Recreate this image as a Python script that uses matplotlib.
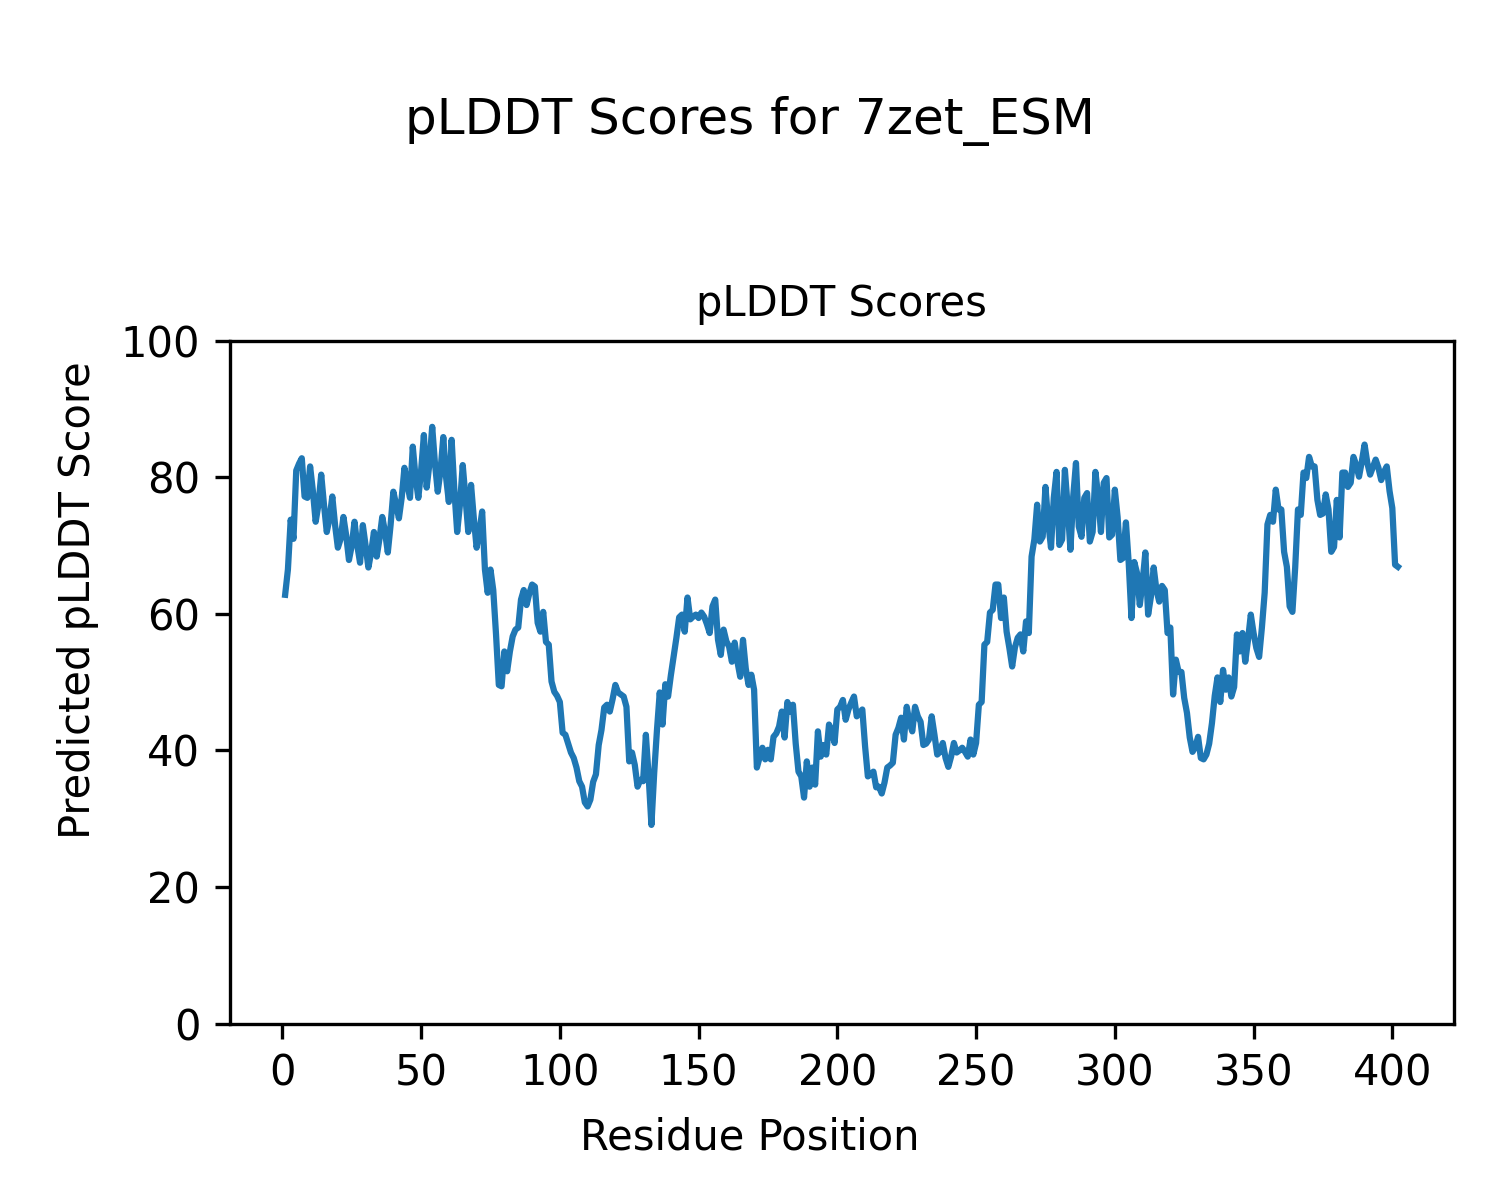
import matplotlib
matplotlib.use("Agg")
import matplotlib.pyplot as plt
import numpy as np

protein_name = "7zet_ESM"

# pLDDT per residue
plddt_scores = [
    62.8, 66.5, 73.8, 71.0, 81.0, 82.0, 82.8, 77.2, 77.0, 81.6,
    78.0, 73.5, 76.0, 80.4, 76.0, 72.0, 74.0, 77.2, 73.0, 69.7,
    71.0, 74.2, 71.5, 67.9, 70.0, 73.5, 70.0, 67.5, 73.0, 70.0,
    66.8, 69.0, 72.0, 68.4, 71.0, 74.2, 72.0, 69.0, 73.0, 77.9,
    76.0, 74.0, 77.0, 81.4, 79.0, 77.0, 84.5, 80.0, 77.0, 81.0,
    86.2, 78.5, 82.0, 87.4, 82.0, 77.9, 81.0, 85.9, 80.0, 76.4,
    85.5, 78.0, 72.0, 76.0, 81.8, 77.0, 72.0, 78.9, 74.0, 69.7,
    72.0, 75.0, 66.5, 63.1, 66.5, 63.5, 57.0, 49.6, 49.4, 54.5,
    51.6, 54.5, 56.7, 57.7, 58.0, 62.1, 63.5, 61.3, 63.0, 64.3,
    64.0, 58.7, 57.4, 60.3, 55.9, 55.5, 50.1, 48.6, 48.0, 47.1,
    42.6, 42.3, 41.0, 39.7, 38.9, 37.5, 35.5, 34.7, 32.4, 31.8,
    32.8, 35.4, 36.5, 40.8, 43.0, 46.3, 46.7, 45.7, 47.5, 49.6,
    48.5, 48.2, 47.9, 46.4, 38.4, 39.7, 37.9, 34.7, 35.7, 35.5,
    42.3, 36.2, 29.1, 36.7, 43.0, 48.5, 43.8, 49.7, 47.9, 51.0,
    53.7, 56.5, 59.5, 59.9, 57.4, 62.4, 59.2, 59.6, 59.9, 59.4,
    60.2, 59.6, 58.5, 57.2, 61.1, 62.1, 56.2, 54.0, 57.7, 56.0,
    55.2, 53.0, 55.8, 53.0, 50.8, 56.2, 52.0, 49.6, 51.1, 48.9,
    37.5, 39.0, 40.4, 38.7, 40.1, 38.7, 42.0, 42.5, 43.5, 45.7,
    41.9, 47.1, 45.7, 46.7, 41.0, 36.9, 36.2, 33.1, 38.4, 34.7,
    37.5, 35.0, 42.8, 39.1, 40.8, 39.4, 43.8, 42.8, 41.1, 46.0,
    46.4, 47.4, 44.5, 46.0, 47.0, 47.9, 45.0, 45.5, 46.0, 40.6,
    36.2, 36.5, 36.9, 34.6, 34.7, 33.7, 35.3, 37.5, 37.8, 38.2,
    42.3, 43.3, 44.8, 41.6, 46.4, 44.1, 42.8, 46.4, 45.0, 44.2,
    40.8, 41.0, 41.6, 45.0, 42.3, 39.4, 39.8, 41.1, 38.9, 37.6,
    39.1, 41.1, 39.7, 40.0, 40.4, 39.8, 39.1, 41.6, 39.4, 41.1,
    46.7, 47.1, 55.5, 55.9, 60.2, 60.6, 64.3, 64.3, 59.4, 62.4,
    57.4, 55.0, 52.3, 55.1, 56.5, 57.0, 54.5, 58.9, 57.2, 68.4,
    70.9, 76.0, 70.6, 71.3, 78.6, 73.4, 69.7, 77.0, 80.8, 70.1,
    70.9, 81.1, 75.7, 69.4, 77.2, 82.1, 72.8, 71.3, 77.0, 77.7,
    70.6, 72.0, 80.8, 77.2, 72.0, 79.2, 79.9, 71.2, 71.6, 78.2,
    74.2, 67.9, 68.2, 73.4, 67.5, 59.4, 67.6, 66.0, 61.3, 64.7,
    69.0, 59.9, 62.5, 66.8, 63.5, 61.8, 64.1, 63.5, 57.2, 58.0,
    48.2, 53.3, 51.5, 51.5, 47.7, 45.5, 41.9, 39.8, 40.5, 42.0,
    38.9, 38.7, 39.4, 41.0, 44.0, 48.0, 50.7, 47.1, 51.8, 48.9,
    50.7, 47.9, 49.3, 57.0, 54.5, 57.2, 53.0, 56.2, 59.9, 57.2,
    55.0, 53.7, 58.0, 63.1, 73.1, 74.5, 73.5, 78.2, 75.3, 75.3,
    69.1, 66.9, 61.1, 60.3, 66.8, 75.3, 74.5, 80.7, 79.9, 83.0,
    81.6, 81.6, 76.7, 74.5, 74.7, 77.5, 75.3, 69.1, 69.8, 76.7,
    71.2, 80.7, 80.7, 78.6, 79.2, 83.0, 81.8, 80.1, 82.3, 84.8,
    82.1, 80.4, 81.5, 82.6, 81.4, 79.6, 80.8, 81.6, 78.0, 75.5,
    67.2, 66.9,
]
residues = np.arange(1, len(plddt_scores) + 1)

fig = plt.figure(figsize=(5, 4), dpi=300)
fig.suptitle(f"pLDDT Scores for {protein_name}", y=0.92)
ax = fig.add_subplot(111)
fig.subplots_adjust(left=0.153, right=0.969, bottom=0.147, top=0.716)

ax.plot(residues, plddt_scores, color="#1f77b4", linewidth=1.5)
ax.set_ylim(0, 100)
ax.set_title("pLDDT Scores", fontsize=10)

# shared figure-level axis labels
fig.supxlabel("Residue Position", fontsize=10, y=0.052, va="center")
fig.supylabel("Predicted pLDDT Score", fontsize=10, x=0.052, ha="center")

fig.savefig("out.png", dpi=300)
